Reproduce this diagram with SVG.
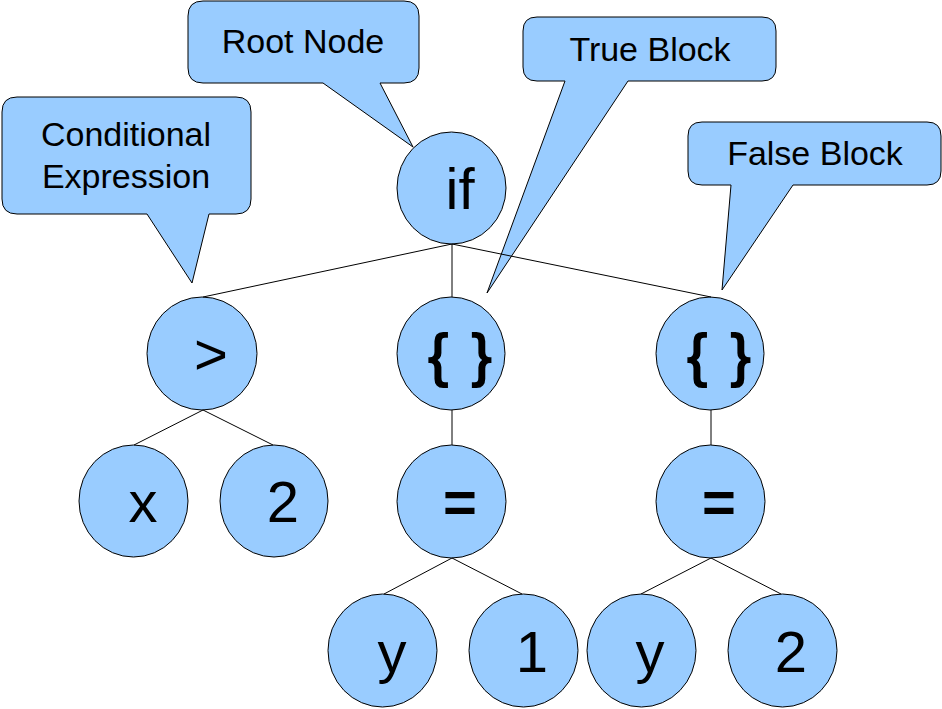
<svg xmlns="http://www.w3.org/2000/svg" width="942" height="709" viewBox="0 0 942 709">
<style>
.n{fill:#99ccff;stroke:#000;stroke-width:1}
.c{fill:#99ccff;stroke:#000;stroke-width:1;stroke-linejoin:miter}
.t{font-family:"Liberation Sans",Arial,sans-serif;font-size:58px;fill:#000;text-anchor:middle}
.b{font-weight:bold}
.br{stroke:#000;stroke-width:2.2;word-spacing:8px}
.ct{font-family:"Liberation Sans",Arial,sans-serif;font-size:34px;fill:#000;text-anchor:middle}
.e{stroke:#000;stroke-width:1;fill:none}
</style>
<rect width="942" height="709" fill="#fff"/>
<g id="nodes">
<g id="n-if"><ellipse class="n" cx="451.5" cy="188" rx="54.5" ry="56"/><text class="t" x="460" y="209">if</text></g>
<g id="n-gt"><ellipse class="n" cx="202" cy="353.5" rx="55" ry="56.5"/><text class="t" x="211" y="374">&gt;</text></g>
<g id="n-blk1"><ellipse class="n" cx="451" cy="353.5" rx="54" ry="56.5"/><text class="t br" x="460" y="375">{ }</text></g>
<g id="n-blk2"><ellipse class="n" cx="710" cy="353.5" rx="54" ry="56.5"/><text class="t br" x="719" y="375">{ }</text></g>
<g id="n-x"><ellipse class="n" cx="133.5" cy="501" rx="54.5" ry="56"/><text class="t" x="143" y="522">x</text></g>
<g id="n-2a"><ellipse class="n" cx="274" cy="501" rx="54" ry="56"/><text class="t" x="283" y="522">2</text></g>
<g id="n-eq1"><ellipse class="n" cx="451.5" cy="501.5" rx="54.5" ry="56.5"/><text class="t b" x="460" y="522">=</text></g>
<g id="n-eq2"><ellipse class="n" cx="710.5" cy="501.5" rx="54.5" ry="56.5"/><text class="t b" x="719" y="522">=</text></g>
<g id="n-y1"><ellipse class="n" cx="382.5" cy="650.5" rx="54.5" ry="56.5"/><text class="t" x="392" y="672">y</text></g>
<g id="n-1"><ellipse class="n" cx="523.5" cy="650.5" rx="54.5" ry="56.5"/><text class="t" x="532" y="672">1</text></g>
<g id="n-y2"><ellipse class="n" cx="641.5" cy="650.5" rx="54.5" ry="56.5"/><text class="t" x="650" y="672">y</text></g>
<g id="n-2b"><ellipse class="n" cx="782.5" cy="650.5" rx="54.5" ry="56.5"/><text class="t" x="791" y="672">2</text></g>
</g>
<g id="callouts">
<g id="co-cond"><path class="c" d="M17,97 H236 Q251,97 251,112 V199 Q251,214 236,214 H209 L192,283 L147,214 H17 Q2,214 2,199 V112 Q2,97 17,97 Z"/><text class="ct" x="126" y="146">Conditional</text><text class="ct" x="126" y="188">Expression</text></g>
<g id="co-root"><path class="c" d="M203,1 H404 Q419,1 419,16 V68 Q419,83 404,83 H380 L413,147 L323,83 H203 Q188,83 188,68 V16 Q188,1 203,1 Z"/><text class="ct" x="303" y="53">Root Node</text></g>
<g id="co-true"><path class="c" d="M537,17 H762 Q776,17 776,31 V67 Q776,81 762,81 H628 L487,293 L565,81 H537 Q523,81 523,67 V31 Q523,17 537,17 Z"/><text class="ct" x="650" y="61">True Block</text></g>
<g id="co-false"><path class="c" d="M702,122 H927 Q941,122 941,136 V171 Q941,185 927,185 H793 L722,290 L731,185 H702 Q688,185 688,171 V136 Q688,122 702,122 Z"/><text class="ct" x="815" y="165">False Block</text></g>
</g>
<g id="connectors">
<line class="e" x1="452" y1="244" x2="203" y2="297"/>
<line class="e" x1="452" y1="244" x2="452" y2="297"/>
<line class="e" x1="452" y1="244" x2="711" y2="297"/>
<line class="e" x1="203" y1="410" x2="134" y2="445"/>
<line class="e" x1="203" y1="410" x2="273" y2="445"/>
<line class="e" x1="452" y1="410" x2="452" y2="445"/>
<line class="e" x1="711" y1="410" x2="711" y2="445"/>
<line class="e" x1="452" y1="558" x2="384" y2="594"/>
<line class="e" x1="452" y1="558" x2="522" y2="594"/>
<line class="e" x1="711" y1="558" x2="641" y2="594"/>
<line class="e" x1="711" y1="558" x2="781" y2="594"/>
</g>
</svg>
